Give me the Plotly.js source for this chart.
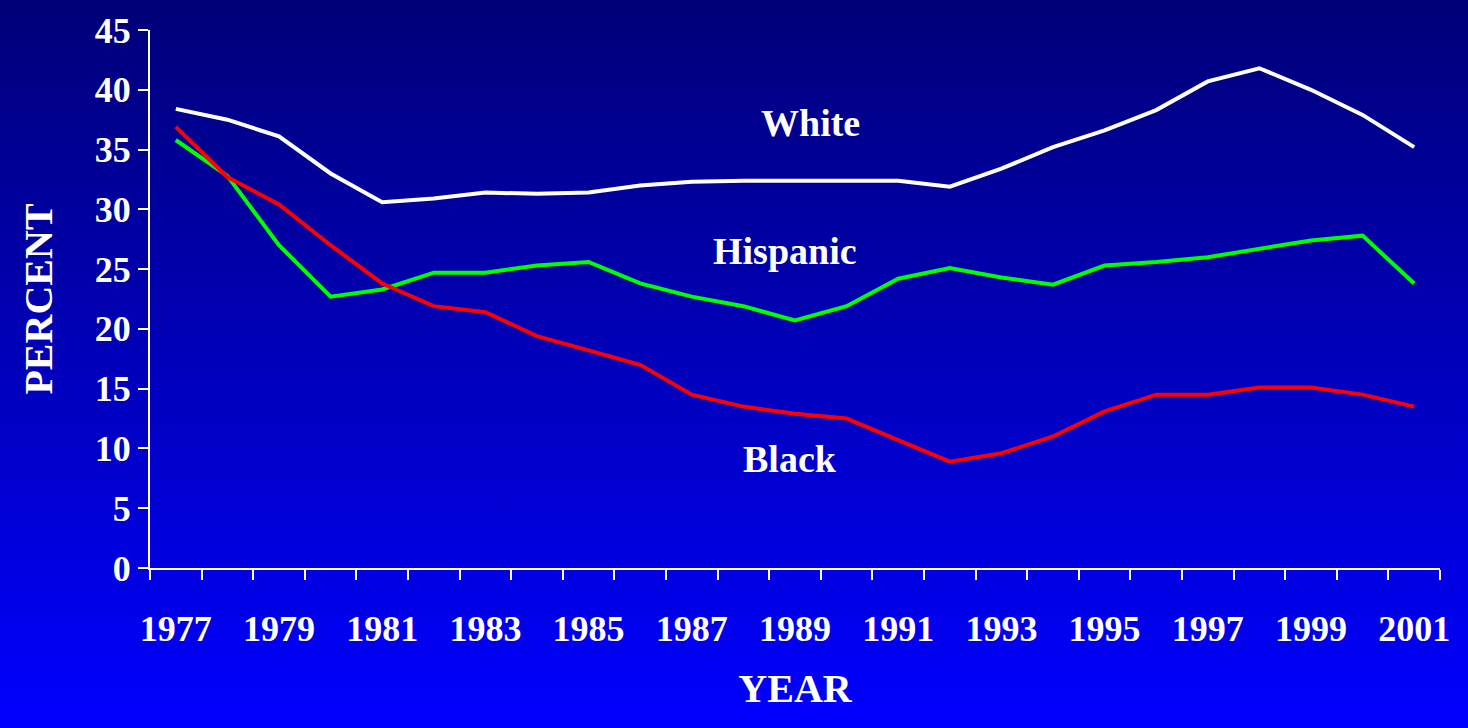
<!DOCTYPE html>
<html>
<head>
<meta charset="utf-8">
<script src="https://cdn.plot.ly/plotly-3.0.1.min.js"></script>
<style>
  html, body { margin: 0; padding: 0; }
  body { width: 1468px; height: 728px; background: linear-gradient(to bottom, #000078 0%, #0000c8 60%, #0000ff 100%); }
  #chart { width: 1468px; height: 728px; }
</style>
</head>
<body>
<div id="chart"></div>
<script>
const years = [];
for (let y = 1977; y <= 2001; y++) years.push(y);

const white = [38.4, 37.5, 36.1, 33.0, 30.6, 30.9, 31.4, 31.3, 31.4, 32.0, 32.3, 32.4, 32.4,
  32.4, 32.4, 31.9, 33.4, 35.2, 36.6, 38.3, 40.7, 41.8, 40.0, 37.9, 35.2];
const hispanic = [35.8, 32.8, 27.0, 22.7, 23.3, 24.7, 24.7, 25.3, 25.6, 23.8, 22.7, 21.9, 20.7,
  21.9, 24.2, 25.1, 24.3, 23.7, 25.3, 25.6, 26.0, 26.7, 27.4, 27.8, 23.8];
const black = [36.9, 32.7, 30.4, 27.0, 23.8, 21.9, 21.4, 19.4, 18.2, 17.0, 14.5, 13.5, 12.9,
  12.5, 10.7, 8.9, 9.6, 11.0, 13.1, 14.5, 14.5, 15.1, 15.1, 14.5, 13.5];

const labelYears = years.filter((y) => y % 2 === 1);
const font = { family: "Liberation Serif, Times New Roman, serif", color: "white" };

function line(y, color, name) {
  return { x: years, y, name, mode: "lines", line: { color, width: 4 } };
}

Plotly.newPlot("chart", [
  line(white, "#ffffff", "White"),
  line(hispanic, "#00ff00", "Hispanic"),
  line(black, "#ff0000", "Black"),
], {
  width: 1468, height: 728,
  paper_bgcolor: "rgba(0,0,0,0)", plot_bgcolor: "rgba(0,0,0,0)",
  showlegend: false,
  margin: { l: 150, r: 28, t: 30, b: 160 },
  font: { ...font, size: 36 },
  xaxis: {
    range: [1976.5, 2001.5],
    tickvals: labelYears,
    ticktext: labelYears.map(String),
    ticks: "", showgrid: false, zeroline: false,
    showline: true, linecolor: "white", linewidth: 2,
    ticklabelstandoff: 28,
    tickfont: { ...font, size: 36, weight: "bold" },
    minor: { tick0: 1976.5, dtick: 1, ticks: "outside", ticklen: 10, tickcolor: "white", tickwidth: 2, showgrid: false },
    title: { text: "<b>YEAR</b>", font: { ...font, size: 40 }, standoff: 26 },
  },
  yaxis: {
    range: [0, 45], dtick: 5,
    ticks: "outside", ticklen: 10, tickcolor: "white", tickwidth: 2,
    showgrid: false, zeroline: false,
    showline: true, linecolor: "white", linewidth: 2,
    tickfont: { ...font, size: 36, weight: "bold" },
    title: { text: "<b>PERCENT</b>", font: { ...font, size: 40 }, standoff: 30 },
  },
  annotations: [
    { x: 1989.3, y: 37.2, text: "<b>White</b>" },
    { x: 1988.8, y: 26.5, text: "<b>Hispanic</b>" },
    { x: 1988.9, y: 9.1, text: "<b>Black</b>" },
  ].map((a) => ({ ...a, showarrow: false, font: { ...font, size: 38 } })),
}, { displayModeBar: false });
</script>
</body>
</html>
